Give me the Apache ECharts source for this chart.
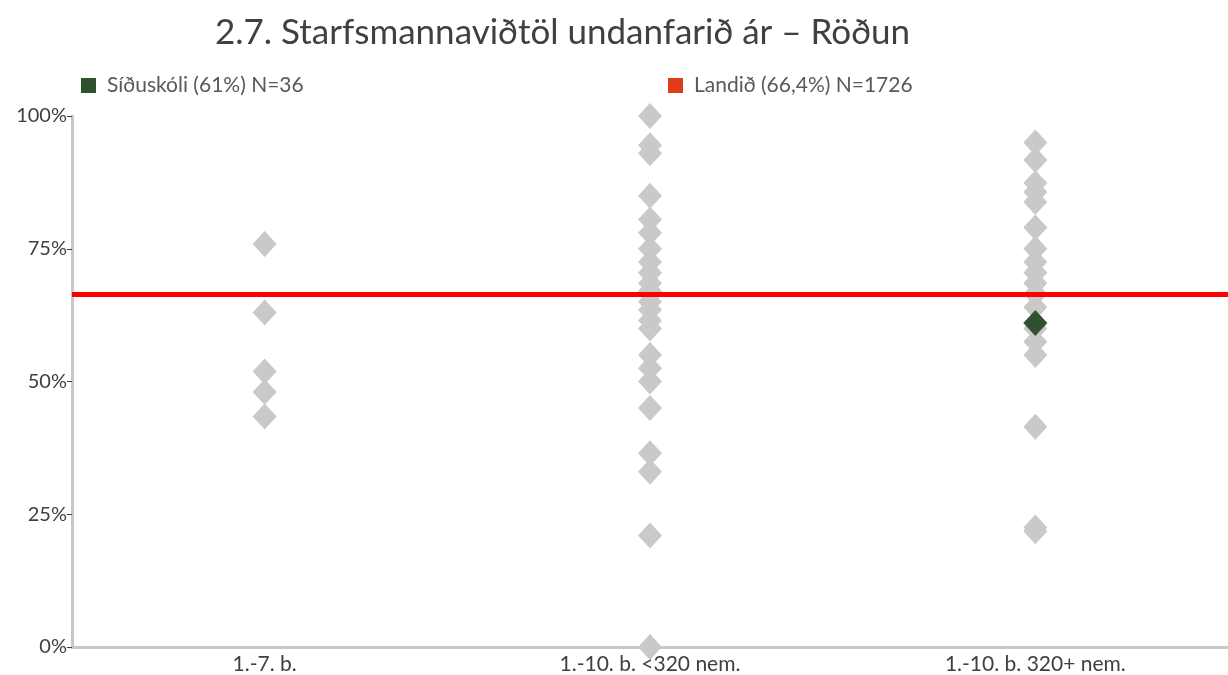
<!DOCTYPE html>
<html>
<head>
<meta charset="utf-8">
<script src="https://cdn.jsdelivr.net/npm/echarts@6/dist/echarts.min.js"></script>
<style>
  html, body { margin: 0; padding: 0; background: #fff; }
  #chart { width: 1228px; height: 675px; }
</style>
</head>
<body>
<div id="chart"></div>
<script>
// categories on the x axis
const categories = ['1.-7. b.', '1.-10. b. <320 nem.', '1.-10. b. 320+ nem.']

// other schools, one list per category (percent)
const othersSmall = [75.9, 63.0, 51.9, 48.0, 43.4]
const othersMid = [100, 94.5, 93, 85, 80.5, 78, 75, 72.5, 70.5, 68.5, 67, 65, 63.5, 61.5, 60,
  55, 52.5, 50, 45, 36.5, 33, 21, 0]
const othersLarge = [95, 91.7, 87.4, 85.7, 83.8, 79, 75, 72.5, 70.5, 68.5, 66.5, 64, 60, 57.5,
  55, 41.5, 22.5, 21.8]

// the school itself
const schoolName = 'Síðuskóli (61%) N=36'
const schoolCat = 2
const schoolValue = 61

// national average
const countryName = 'Landið (66,4%) N=1726'
const countryValue = 66.4

const yTicks = [0, 25, 50, 75, 100]

var others = []
;[othersSmall, othersMid, othersLarge].forEach(function (list, i) {
  list.forEach(function (v) { others.push([i, v]) })
})

var myChart = echarts.init(document.getElementById('chart'))
var font = 'Lato'

var option = {
  animation: false,
  textStyle: { fontFamily: font },
  title: {
    text: '2.7. Starfsmannaviðtöl undanfarið ár – Röðun',
    left: 210,
    top: 10,
    textStyle: { fontFamily: font, fontSize: 35, fontWeight: 'normal', color: '#404040' }
  },
  legend: [{
    data: [schoolName],
    left: 76,
    top: 70,
    icon: 'rect',
    itemWidth: 15,
    itemHeight: 15,
    itemGap: 10,
    itemStyle: { borderWidth: 0 },
    textStyle: { fontSize: 21, color: '#595959', padding: [0, 0, 0, 6] }
  }, {
    data: [countryName],
    left: 663,
    top: 70,
    icon: 'rect',
    itemWidth: 15,
    itemHeight: 15,
    itemStyle: { borderWidth: 0 },
    textStyle: { fontSize: 21, color: '#595959', padding: [0, 0, 0, 6] }
  }],
  grid: { left: 72, right: -4, top: 116, bottom: 27 },
  xAxis: {
    type: 'category',
    data: categories,
    axisLine: { lineStyle: { color: '#c8c8c8', width: 3 } },
    axisTick: { show: false },
    axisLabel: { fontSize: 21, color: '#404040', margin: 7 }
  },
  yAxis: {
    type: 'value',
    min: yTicks[0],
    max: yTicks[yTicks.length - 1],
    interval: 25,
    splitLine: { show: false },
    axisLine: { show: true, lineStyle: { color: '#c8c8c8', width: 3 } },
    axisTick: { show: true, length: 5, lineStyle: { color: '#404040', width: 1 } },
    axisLabel: { fontSize: 20, color: '#404040', margin: 5, formatter: '{value}%' }
  },
  series: [{
    name: 'others',
    type: 'scatter',
    data: others,
    symbol: 'diamond',
    symbolSize: [24, 26],
    clip: false,
    itemStyle: { color: '#c9c9c9', opacity: 1 },
    z: 2
  }, {
    name: schoolName,
    type: 'scatter',
    data: [[schoolCat, schoolValue]],
    symbol: 'diamond',
    symbolSize: [24, 26],
    clip: false,
    itemStyle: { color: '#2f5130', opacity: 1 },
    z: 4
  }, {
    name: countryName,
    type: 'scatter',
    data: [],
    itemStyle: { color: '#e03c1c', opacity: 1 },
    markLine: {
      silent: true,
      symbol: ['none', 'none'],
      label: { show: false },
      lineStyle: { color: '#ff0000', width: 5, type: 'solid', opacity: 1 },
      data: [{ yAxis: countryValue }]
    },
    z: 5
  }]
}

myChart.setOption(option)
</script>
</body>
</html>
